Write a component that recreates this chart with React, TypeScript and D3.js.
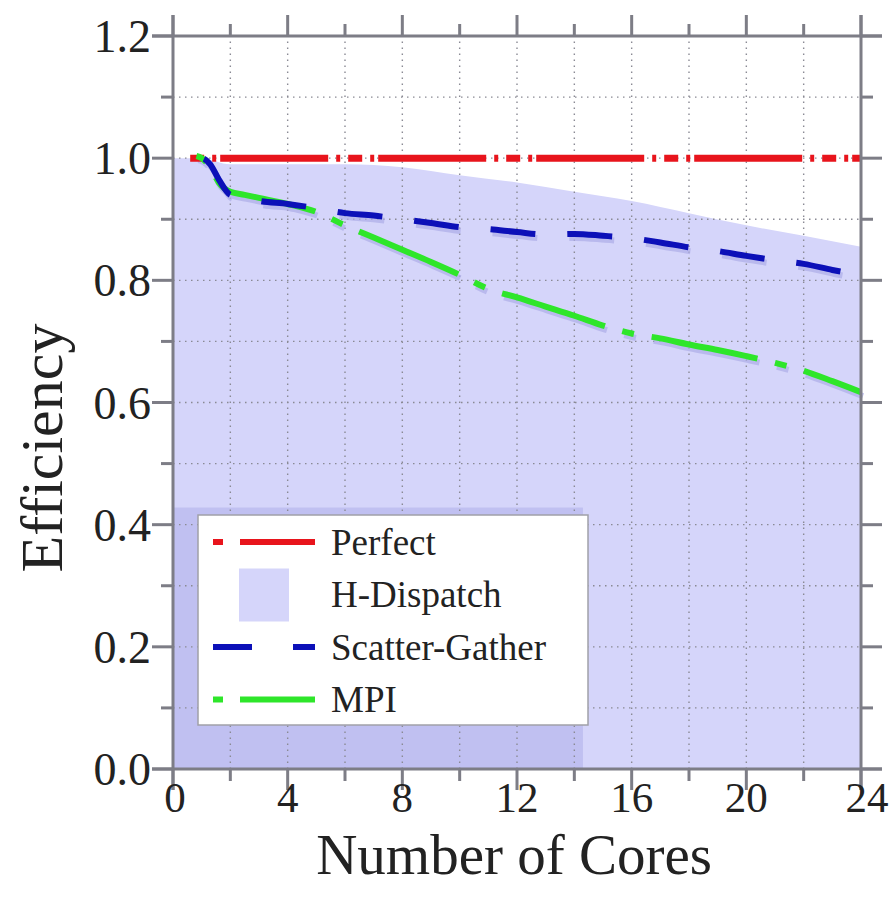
import React from "react";
import * as d3 from "d3";

const cores = [0.66, 1, 1.3, 1.6, 2, 2.5, 3, 4, 5, 6, 7, 8, 9, 10, 11, 12, 13, 14, 15, 16, 17, 18, 19, 20, 21, 22, 23, 24];
const scatterGather = [1.0, 1.0, 0.99, 0.965, 0.94, 0.935, 0.93, 0.925, 0.918, 0.91, 0.906, 0.9, 0.894, 0.887, 0.884, 0.879, 0.875, 0.876, 0.873, 0.869, 0.862, 0.854, 0.848, 0.84, 0.833, 0.827, 0.817, 0.808];
const mpi = [1.005, 1.0, 0.985, 0.96, 0.945, 0.94, 0.935, 0.925, 0.912, 0.89, 0.87, 0.85, 0.83, 0.809, 0.786, 0.772, 0.757, 0.742, 0.726, 0.713, 0.705, 0.695, 0.686, 0.676, 0.665, 0.652, 0.635, 0.617];

const hdCores = [0, 1, 2, 4, 6, 8, 10, 12, 14, 16, 18, 20, 22, 24];
const hDispatch = [1.0, 1.0, 0.99, 0.99, 0.99, 0.985, 0.972, 0.96, 0.945, 0.93, 0.91, 0.89, 0.873, 0.855];

const perfectCores = [0.6, 24];
const perfect = [1.0, 1.0];

const xTicks = [0, 4, 8, 12, 16, 20, 24];
const xMinor = [2, 6, 10, 14, 18, 22];
const yTicks = [0, 0.2, 0.4, 0.6, 0.8, 1.0, 1.2];
const yMinor = [0.1, 0.3, 0.5, 0.7, 0.9, 1.1];

const legendItems = ["Perfect", "H-Dispatch", "Scatter-Gather", "MPI"];

const FONT = "'Liberation Serif', 'Times New Roman', serif";
const RED = "#e8141c";
const BLUE = "#0c10b8";
const GREEN = "#2ee62a";
const FILL = "#d5d5fa";
const AXIS = "#7d7d86";

// dash patterns
const RED_DASH = [108, 8, 4, 8, 14, 8, 4, 4];
const BLUE_DASH = [45, 32];
const GREEN_DASH = [108, 18, 12, 18];

const App = () => {
  const x = d3.scaleLinear().domain([0, 24]).range([173, 861]);
  const y = d3.scaleLinear().domain([0, 1.2]).range([769, 36]);

  const toPts = (xs: number[], ys: number[]) => xs.map((c, i) => [c, ys[i]] as [number, number]);

  // approximate path length (in px) from the start of a series up to a given x value
  const lengthAt = (xs: number[], ys: number[], xv: number) => {
    let len = 0;
    for (let i = 1; i < xs.length; i++) {
      const x0 = xs[i - 1], x1 = xs[i];
      const t = Math.max(0, Math.min(1, (xv - x0) / (x1 - x0)));
      if (t <= 0) break;
      const dx = (x(x1) - x(x0)) * t;
      const dy = (y(ys[i]) - y(ys[i - 1])) * t;
      len += Math.hypot(dx, dy);
    }
    return len;
  };
  const sum = (a: number[]) => a.reduce((s, v) => s + v, 0);
  const offsetFor = (pattern: number[], L: number, patPos = 0) => {
    const p = sum(pattern);
    return (((patPos - L) % p) + p) % p;
  };

  const line = d3
    .line<[number, number]>()
    .x(d => x(d[0]))
    .y(d => y(d[1]))
    .curve(d3.curveMonotoneX);

  const area = d3
    .area<[number, number]>()
    .x(d => x(d[0]))
    .y0(y(0))
    .y1(d => y(d[1]))
    .curve(d3.curveMonotoneX);

  const sgPath = line(toPts(cores, scatterGather)) || "";
  const mpiPath = line(toPts(cores, mpi)) || "";
  const perfPath = line(toPts(perfectCores, perfect)) || "";

  const redOff = offsetFor(RED_DASH, 0, 128);
  const blueOff = offsetFor(BLUE_DASH, lengthAt(cores, scatterGather, 5.76));
  const greenOff = offsetFor(GREEN_DASH, lengthAt(cores, mpi, 6.5));

  const tickLen = 21;
  const minorLen = 12;
  const grid = "#8a8a94";

  return (
    <svg width={890} height={900} style={{ position: "absolute", left: 0, top: 0, background: "#fff" }}>
      {/* H-Dispatch area */}
      <path d={area(toPts(hdCores, hDispatch)) || ""} fill={FILL} />
      {/* darker legend shadow block */}
      <rect x={x(0)} y={y(0.428)} width={x(14.3) - x(0)} height={y(0) - y(0.428)} fill="#b8b8ee" opacity={0.75} />

      {/* grid */}
      <g stroke={grid} strokeWidth={1.4} strokeDasharray="1.5,4.5">
        {[...xMinor, 4, 8, 12, 16, 20].map(v => (
          <line key={"gx" + v} x1={x(v)} x2={x(v)} y1={y(0)} y2={y(1.2)} />
        ))}
        {[...yMinor, 0.2, 0.4, 0.6, 0.8, 1.0].map(v => (
          <line key={"gy" + v} x1={x(0)} x2={x(24)} y1={y(v)} y2={y(v)} />
        ))}
      </g>

      {/* line shadows */}
      <g transform="translate(2,4)" fill="none" strokeWidth={6} stroke="#aeaee8" opacity={0.7}>
        <path d={sgPath} strokeDasharray={BLUE_DASH.join(",")} strokeDashoffset={blueOff} />
        <path d={mpiPath} strokeDasharray={GREEN_DASH.join(",")} strokeDashoffset={greenOff} />
      </g>

      {/* series */}
      <path d={perfPath} fill="none" stroke={RED} strokeWidth={7} strokeDasharray={RED_DASH.join(",")} strokeDashoffset={redOff} />
      <path d={mpiPath} fill="none" stroke={GREEN} strokeWidth={6} strokeDasharray={GREEN_DASH.join(",")} strokeDashoffset={greenOff} />
      <path d={sgPath} fill="none" stroke={BLUE} strokeWidth={6} strokeDasharray={BLUE_DASH.join(",")} strokeDashoffset={blueOff} />

      {/* axes frame */}
      <g stroke={AXIS} strokeWidth={3}>
        <line x1={x(0) - tickLen} x2={x(24) + tickLen} y1={y(0)} y2={y(0)} />
        <line x1={x(0) - tickLen} x2={x(24) + tickLen} y1={y(1.2)} y2={y(1.2)} />
        <line x1={x(0)} x2={x(0)} y1={y(1.2) - tickLen} y2={y(0) + tickLen} />
        <line x1={x(24)} x2={x(24)} y1={y(1.2) - tickLen} y2={y(0) + tickLen} />
        {xTicks.map(v => (
          <g key={"xt" + v}>
            <line x1={x(v)} x2={x(v)} y1={y(0)} y2={y(0) + tickLen} />
            <line x1={x(v)} x2={x(v)} y1={y(1.2)} y2={y(1.2) - tickLen} />
          </g>
        ))}
        {xMinor.map(v => (
          <g key={"xm" + v}>
            <line x1={x(v)} x2={x(v)} y1={y(0)} y2={y(0) + minorLen} />
            <line x1={x(v)} x2={x(v)} y1={y(1.2)} y2={y(1.2) - minorLen} />
          </g>
        ))}
        {yTicks.map(v => (
          <g key={"yt" + v}>
            <line x1={x(0)} x2={x(0) - tickLen} y1={y(v)} y2={y(v)} />
            <line x1={x(24)} x2={x(24) + tickLen} y1={y(v)} y2={y(v)} />
          </g>
        ))}
        {yMinor.map(v => (
          <g key={"ym" + v}>
            <line x1={x(0)} x2={x(0) - minorLen} y1={y(v)} y2={y(v)} />
            <line x1={x(24)} x2={x(24) + minorLen} y1={y(v)} y2={y(v)} />
          </g>
        ))}
      </g>

      {/* tick labels */}
      <g fontFamily={FONT} fill="#222">
        {xTicks.map(v => (
          <text key={"xl" + v} x={x(v) + (v === 24 ? 6 : v === 0 ? 2 : 0)} y={y(0) + 43} fontSize={43} textAnchor="middle">
            {v}
          </text>
        ))}
        {yTicks.map(v => (
          <text key={"yl" + v} x={x(0) - 22} y={y(v)} dy="0.35em" fontSize={46} textAnchor="end">
            {d3.format(".1f")(v)}
          </text>
        ))}
      </g>

      {/* axis titles */}
      <text x={x(12) - 3} y={874} textAnchor="middle" fontFamily={FONT} fontSize={57} fill="#222">
        Number of Cores
      </text>
      <text
        transform={`translate(62, 448) rotate(-90)`}
        textAnchor="middle"
        fontFamily={FONT}
        fontSize={60}
        fill="#222"
      >
        Efficiency
      </text>

      {/* legend */}
      <g>
        <rect x={198} y={515} width={390} height={210} fill="#fff" stroke="#a0a0a8" strokeWidth={1.5} />
        {legendItems.map((name, i) => {
          const cy = 542 + i * 52.5;
          return (
            <g key={name}>
              {name === "Perfect" && (
                <g stroke={RED} strokeWidth={6}>
                  <line x1={213} x2={223} y1={cy} y2={cy} />
                  <line x1={240} x2={315} y1={cy} y2={cy} />
                </g>
              )}
              {name === "H-Dispatch" && <rect x={239} y={cy - 26} width={50} height={53} fill={FILL} />}
              {name === "Scatter-Gather" && (
                <g stroke={BLUE} strokeWidth={6}>
                  <line x1={213} x2={252} y1={cy} y2={cy} />
                  <line x1={293} x2={315} y1={cy} y2={cy} />
                </g>
              )}
              {name === "MPI" && (
                <g stroke={GREEN} strokeWidth={6}>
                  <line x1={213} x2={223} y1={cy} y2={cy} />
                  <line x1={240} x2={315} y1={cy} y2={cy} />
                </g>
              )}
              <text x={331} y={cy} dy="0.35em" fontFamily={FONT} fontSize={37} fill="#222">
                {name}
              </text>
            </g>
          );
        })}
      </g>
    </svg>
  );
};

export default App;
